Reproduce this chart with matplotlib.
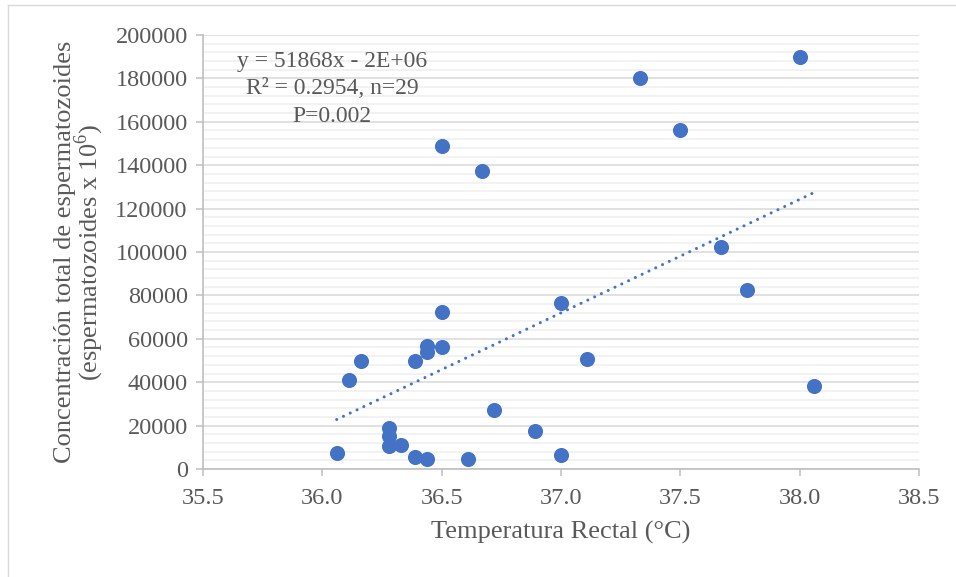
import matplotlib
matplotlib.use("Agg")
import matplotlib.pyplot as plt
from matplotlib.lines import Line2D
from matplotlib.ticker import MultipleLocator
import numpy as np

# data
temperatura = [36.06, 36.11, 36.16, 36.28, 36.28, 36.28, 36.33, 36.39, 36.39,
               36.44, 36.44, 36.44, 36.50, 36.50, 36.50, 36.61, 36.67, 36.72,
               36.89, 37.00, 37.00, 37.11, 37.33, 37.50, 37.67, 37.78, 38.00, 38.06]
concentracion = [7500, 40800, 50000, 18700, 15000, 10800, 11000, 50000, 5400,
                 56500, 53700, 4500, 149000, 72300, 56000, 4800, 137500, 27000,
                 17400, 76300, 6600, 50900, 180400, 156300, 102400, 82600, 190000, 38300]
x_ticks = [35.5, 36.0, 36.5, 37.0, 37.5, 38.0, 38.5]
y_ticks = list(range(0, 200001, 20000))
ecuacion = "y = 51868x - 2E+06\nR² = 0.2954, n=29\nP=0.002"

BLUE = "#4472C4"
TXT = "#595959"

plt.rcParams['font.family'] = ['Liberation Serif', 'DejaVu Serif']

fig = plt.figure(figsize=(9.56, 5.77), dpi=100)
ax = fig.add_axes([203/956, 1 - 469/577, 716/956, 434/577])

# chart area border (top and left edges visible)
fig.add_artist(Line2D([8/956, 8/956], [0, 1 - 5/577], color="#d9d9d9", lw=1))
fig.add_artist(Line2D([8/956, 1], [1 - 5/577, 1 - 5/577], color="#d9d9d9", lw=1))

ax.scatter(temperatura, concentracion, s=118, color=BLUE, zorder=3, linewidths=0)

# linear trend line
x = np.array(temperatura)
m, b = np.polyfit(x, np.array(concentracion), 1)
xs = np.array([x.min(), x.max()])
ax.plot(xs, m * xs + b, color=BLUE, lw=2.2, linestyle=(0, (0.01, 2.45)),
        dash_capstyle='round', zorder=2)

ax.set_xlim(35.5, 38.5)
ax.set_ylim(0, 200000)
ax.set_xticks(x_ticks)
ax.set_xticklabels([f"{t:.1f}" for t in x_ticks])
ax.set_yticks(y_ticks)
ax.set_yticklabels([str(t) for t in y_ticks])
ax.yaxis.set_minor_locator(MultipleLocator(4000))

ax.grid(axis='y', which='major', color="#d9d9d9", lw=1.1, zorder=0)
ax.grid(axis='y', which='minor', color="#efefef", lw=1.1, zorder=0)
ax.set_axisbelow(True)

for s in ['top', 'right']:
    ax.spines[s].set_visible(False)
for s in ['left', 'bottom']:
    ax.spines[s].set_color("#bfbfbf")
    ax.spines[s].set_linewidth(1.2)

ax.tick_params(axis='both', which='major', direction='out', length=5, width=1.1,
               color="#bfbfbf", labelcolor=TXT, labelsize=17.5, pad=6)
ax.tick_params(axis='x', which='major', pad=9)
ax.tick_params(axis='y', which='minor', length=0)

ax.set_xlabel("Temperatura Rectal (°C)", fontsize=19, color=TXT, va='center')
ax.xaxis.set_label_coords(0.5, -0.147)
ax.set_ylabel("Concentración total de espermatozoides\n(espermatozoides x 10$^{\\mathregular{6}}$)",
              fontsize=19, color=TXT, va='center', linespacing=0.85)
ax.yaxis.set_label_coords(-0.172, 0.5)

ax.text(0.180, 0.876, ecuacion, transform=ax.transAxes, ha='center', va='center',
        multialignment='center', fontsize=17, color=TXT, linespacing=1.4)

fig.savefig("out.png", dpi=100)
